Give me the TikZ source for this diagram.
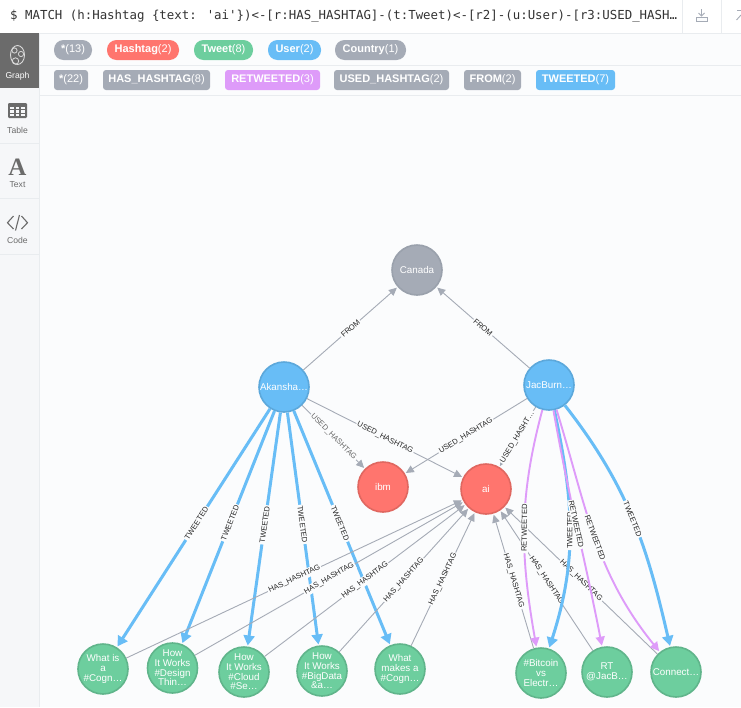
\documentclass[tikz,border=0pt]{standalone}
\usepackage{fontspec}
\setmainfont{Liberation Sans}
\newfontfamily\monof{DejaVu Sans Mono}
\newfontfamily\serifb{Liberation Serif}
\usetikzlibrary{arrows.meta}
\definecolor{bgc}{HTML}{FBFCFD}
\definecolor{linec}{HTML}{E9ECEF}
\definecolor{sidec}{HTML}{F6F7F9}
\definecolor{bluec}{HTML}{68BDF6}
\definecolor{blued}{HTML}{5CA8DB}
\definecolor{greenc}{HTML}{6DCE9E}
\definecolor{greend}{HTML}{60B58B}
\definecolor{redc}{HTML}{FF756E}
\definecolor{redd}{HTML}{E06760}
\definecolor{greyc}{HTML}{A5ABB6}
\definecolor{greyd}{HTML}{9AA1AC}
\definecolor{purc}{HTML}{DE9BF9}
\definecolor{iconc}{HTML}{6B6B6B}
\tikzset{
 every node/.style={font=\fontsize{9.6}{9.7}\selectfont},
 gnode/.style={circle,minimum size=50pt,inner sep=0pt,line width=1.6pt},
 nlab/.style={align=center,text=white,inner sep=0pt,font=\fontsize{9.8}{9.7}\selectfont},
 usernode/.style={gnode,draw=blued,fill=bluec},
 tweetnode/.style={gnode,draw=greend,fill=greenc},
 tagnode/.style={gnode,draw=redd,fill=redc},
 countrynode/.style={gnode,draw=greyd,fill=greyc},
 rel/.style={draw=greyc,line width=0.9pt,shorten >=1pt,-{Triangle[length=8pt,width=7.5pt]}},
 tw/.style={draw=bluec,line width=3pt,shorten >=1pt,-{Triangle[length=10pt,width=11pt]}},
 rt/.style={draw=purc,line width=1.9pt,shorten >=1pt,-{Triangle[length=9pt,width=9pt]}},
 elab/.style={sloped,fill=bgc,inner sep=1.2pt,text=black!85,font=\fontsize{7.6}{8}\selectfont},
 pill/.style={rounded corners=9.5pt,minimum height=20pt,inner sep=0pt,text=white},
 tagchip/.style={rounded corners=3pt,minimum height=20pt,inner sep=0pt,text=white},
 sidelab/.style={text=iconc,font=\fontsize{8.6}{9}\selectfont,inner sep=0pt},
 chipfont/.style={font=\fontsize{11}{12}\selectfont},
}
\newcommand{\chiptxt}[2]{\raisebox{-0.8pt}{\textbf{#1}#2}}
\begin{document}
\begin{tikzpicture}[x=1pt,y=-1pt]
\useasboundingbox (0,0) rectangle (741,707);
\fill[bgc] (0,0) rectangle (741,707);
% top bar
\fill[white] (0,0) rectangle (741,33);
\draw[linec] (0,33.5) -- (741,33.5);
\draw[linec] (682,0) -- (682,33);
\draw[linec] (721.5,0) -- (721.5,33);
\node[anchor=west,inner sep=0pt,text=black!80,font=\monof\fontsize{12.4}{14}\selectfont] (query) at (10,16.5) {\$ MATCH (h:Hashtag \{text: 'ai'\})<-[r:HAS\_HASHTAG]-(t:Tweet)<-[r2]-(u:User)-[r3:USED\_HASH…};
% toolbar icons
\draw[greyc,line width=0.9pt] (701.5,9) -- (701.5,15);
\draw[greyc,line width=0.9pt] (698.5,13) -- (701.5,16) -- (704.5,13);
\draw[greyc,line width=0.9pt,fill=bgc] (696,17.5) rectangle (707,21);
\draw[greyc,line width=0.9pt] (737,10) -- (741,10);
\draw[greyc,line width=0.9pt] (736.5,20) -- (741,15);
% sidebar
\fill[sidec] (0,33) rectangle (39,707);
\draw[linec] (39,33) -- (39,707);
\fill[iconc] (0,33) rectangle (38.5,88);
\draw[linec] (0,143.5) -- (39,143.5);
\draw[linec] (0,198.5) -- (39,198.5);
\draw[linec] (0,254.5) -- (39,254.5);
% graph icon
\draw[white!85!black,line width=0.9pt] (17.5,55) ellipse (7pt and 9.5pt);
\draw[white!85!black,line width=0.8pt] (14.5,50.5) circle (2.6pt);
\draw[white!85!black,line width=0.8pt] (21,54) circle (2.6pt);
\draw[white!85!black,line width=0.8pt] (15.5,61) circle (3.2pt);
\node[font=\fontsize{8.6}{9}\selectfont,text=white,inner sep=0pt] (graphtab) at (17.5,76) {Graph};
% table icon
\fill[iconc,rounded corners=1.2pt] (8,103) rectangle (27,118);
\foreach \xx in {11.8,17.5,23.2}{\fill[sidec] (\xx-1.9,107) rectangle (\xx+1.9,109.2);
 \fill[sidec] (\xx-1.9,110.2) rectangle (\xx+1.9,112.6);
 \fill[sidec] (\xx-1.9,113.6) rectangle (\xx+1.9,116.2);}
\node[sidelab] (tabletab) at (17.5,130) {Table};
% text icon
\node[inner sep=0pt,text=iconc,font=\serifb\bfseries\fontsize{25}{25}\selectfont] (texticon) at (17.5,167.5) {A};
\node[sidelab] (texttab) at (17.5,185) {Text};
% code icon
\draw[iconc,line width=1.1pt] (13.5,216) -- (7.5,222.7) -- (13.5,229);
\draw[iconc,line width=1.1pt] (19.5,215) -- (15.5,230.5);
\draw[iconc,line width=1.1pt] (21.5,216) -- (27.5,222.7) -- (21.5,229);
\node[sidelab] (codetab) at (17.5,240.5) {Code};
% chip rows
\draw[linec] (39,65) -- (741,65);
\draw[linec] (39,95) -- (741,95);
\begin{scope}[every node/.style={chipfont}]
\node[pill,fill=greyc,minimum width=38pt] (c1) at (73,50) {\chiptxt{*}{(13)}};
\node[pill,fill=redc,minimum width=72pt] (c2) at (143,50) {\chiptxt{Hashtag}{(2)}};
\node[pill,fill=greenc,minimum width=59pt] (c3) at (223.5,50) {\chiptxt{Tweet}{(8)}};
\node[pill,fill=bluec,minimum width=53pt] (c4) at (294.5,50) {\chiptxt{User}{(2)}};
\node[pill,fill=greyc,minimum width=71pt] (c5) at (370.5,50) {\chiptxt{Country}{(1)}};
\node[tagchip,fill=greyc,minimum width=34pt] (r1) at (71,80) {\chiptxt{*}{(22)}};
\node[tagchip,fill=greyc,minimum width=107pt] (r2) at (156.5,80) {\chiptxt{HAS\_HASHTAG}{(8)}};
\node[tagchip,fill=purc,minimum width=95pt] (r3) at (272.5,80) {\chiptxt{RETWEETED}{(3)}};
\node[tagchip,fill=greyc,minimum width=115pt] (r4) at (391.5,80) {\chiptxt{USED\_HASHTAG}{(2)}};
\node[tagchip,fill=greyc,minimum width=57pt] (r5) at (492.5,80) {\chiptxt{FROM}{(2)}};
\node[tagchip,fill=bluec,minimum width=79pt] (r6) at (575.5,80) {\chiptxt{TWEETED}{(7)}};
\end{scope}
% graph nodes
\node[countrynode,label={[nlab]center:Canada}] (canada) at (417,270) {};
\node[usernode,label={[nlab]center:Akansha…}] (aka) at (284,387) {};
\node[usernode,label={[nlab]center:JacBurn…}] (jac) at (549,385) {};
\node[tagnode,label={[nlab]center:ibm}] (ibm) at (383,487) {};
\node[tagnode,label={[nlab]center:ai}] (ai) at (486,489) {};
\node[tweetnode,label={[nlab]center:{What is\\a\\\#Cogn…}}] (t1) at (103,669) {};
\node[tweetnode,label={[nlab]center:{How\\It Works\\\#Design\\Thin…}}] (t2) at (172.5,668) {};
\node[tweetnode,label={[nlab]center:{How\\It Works\\\#Cloud\\\#Se…}}] (t3) at (244,672) {};
\node[tweetnode,label={[nlab]center:{How\\It Works\\\#BigData\\\&a…}}] (t4) at (322,671) {};
\node[tweetnode,label={[nlab]center:{What\\makes a\\\#Cogn…}}] (t5) at (400,669) {};
\node[tweetnode,label={[nlab]center:{\#Bitcoin\\vs\\Electr…}}] (t6) at (541,673) {};
\node[tweetnode,label={[nlab]center:{RT\\@JacB…}}] (t7) at (607,672) {};
\node[tweetnode,label={[nlab]center:{Connect…}}] (t8) at (676,672) {};
% tweeted
\draw[tw] (aka) -- node[elab,pos=.48]{TWEETED} (t1);
\draw[tw] (aka) -- node[elab,pos=.48]{TWEETED} (t2);
\draw[tw] (aka) -- node[elab,pos=.48]{TWEETED} (t3);
\draw[tw] (aka) -- node[elab,pos=.48]{TWEETED} (t4);
\draw[tw] (aka) -- node[elab,pos=.48]{TWEETED} (t5);
\draw[tw] (jac) to[out=-52,in=103] node[elab,pos=.5]{TWEETED} (t8);
% has hashtag
\draw[rel] (t1) -- node[elab,pos=.5]{HAS\_HASHTAG} (ai);
\draw[rel] (t2) -- node[elab,pos=.5]{HAS\_HASHTAG} (ai);
\draw[rel] (t3) -- node[elab,pos=.5]{HAS\_HASHTAG} (ai);
\draw[rel] (t4) -- node[elab,pos=.5]{HAS\_HASHTAG} (ai);
\draw[rel] (t5) -- node[elab,pos=.5]{HAS\_HASHTAG} (ai);
\draw[rel] (t6) -- node[elab,pos=.5]{HAS\_HASHTAG} (ai);
\draw[rel] (t7) -- node[elab,pos=.5]{HAS\_HASHTAG} (ai);
\draw[rel] (t8) -- node[elab,pos=.5]{HAS\_HASHTAG} (ai);
% retweeted and the curved tweet
\draw[rt] (jac) to[out=-105,in=100] node[elab,pos=.5]{RETWEETED} (t6);
\draw[tw] (jac) to[out=-78,in=72] node[elab,pos=.5]{TWEETED} (t6);
\draw[rt] (jac) to[out=-80,in=101] node[elab,pos=.48]{RETWEETED} (t7);
\draw[rt] (jac) to[out=-73,in=129] node[elab,pos=.5]{RETWEETED} (t8);
% used hashtag and from
\draw[rel] (aka) -- node[elab,pos=.5,text=black!60]{USED\_HASHTAG} (ibm);
\draw[rel] (aka) -- node[elab,pos=.5]{USED\_HASHTAG} (ai);
\draw[rel] (jac) -- node[elab,pos=.5]{USED\_HASHTAG} (ibm);
\draw[rel] (jac) -- node[elab,pos=.5]{USED\_HASHT…} (ai);
\draw[rel] (aka) -- node[elab,pos=.5]{FROM} (canada);
\draw[rel] (jac) -- node[elab,pos=.5]{FROM} (canada);
\end{tikzpicture}
\end{document}
